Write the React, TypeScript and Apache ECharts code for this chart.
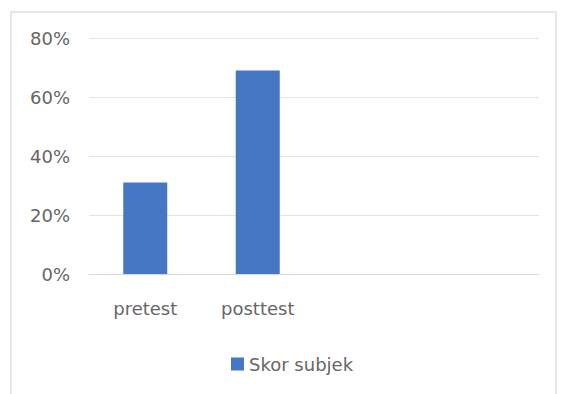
import React, { useEffect, useRef } from "react";
import * as echarts from "echarts";

const categories = ["pretest", "posttest", "", ""];
const seriesName = "Skor subjek";
const values = [0.31, 0.69, null, null];
const yTicks = { min: 0, max: 0.8, interval: 0.2 };

const FONT = "DejaVu Sans";
const TEXT = "#666666";

export default function App() {
  const ref = useRef<HTMLDivElement>(null);
  useEffect(() => {
    document.body.style.margin = "0";
    const chart = echarts.init(ref.current!, null, { renderer: "svg" });
    chart.setOption({
      animation: false,
      backgroundColor: "#ffffff",
      grid: { left: 89, right: 23, top: 38, bottom: 120 },
      graphic: [
        {
          type: "rect",
          shape: { x: 11, y: 12, width: 545, height: 400 },
          style: { fill: "none", stroke: "#e0e0e0", lineWidth: 1.5 },
          silent: true,
        },
      ],
      legend: {
        data: [seriesName],
        left: 226,
        top: 350,
        itemWidth: 13,
        itemHeight: 13,
        icon: "rect",
        textStyle: { fontFamily: FONT, fontSize: 18, color: TEXT, lineHeight: 18 },
      },
      xAxis: {
        type: "category",
        data: categories,
        axisLine: { show: true, lineStyle: { color: "#d9d9d9", width: 1 } },
        axisTick: { show: false },
        axisLabel: { fontFamily: FONT, fontSize: 18, color: TEXT, margin: 25 },
      },
      yAxis: {
        type: "value",
        min: yTicks.min,
        max: yTicks.max,
        interval: yTicks.interval,
        axisLine: { show: false },
        axisTick: { show: false },
        splitLine: { lineStyle: { color: "#e4e4e4", width: 1 } },
        axisLabel: {
          fontFamily: FONT,
          fontSize: 18,
          color: TEXT,
          margin: 19,
          formatter: (v: number) => Math.round(v * 100) + "%",
        },
      },
      series: [
        {
          name: seriesName,
          type: "bar",
          data: values,
          barWidth: 44,
          itemStyle: { color: "#4677C5" },
        },
      ],
    });
    return () => chart.dispose();
  }, []);
  return <div ref={ref} style={{ width: 562, height: 394 }} />;
}
